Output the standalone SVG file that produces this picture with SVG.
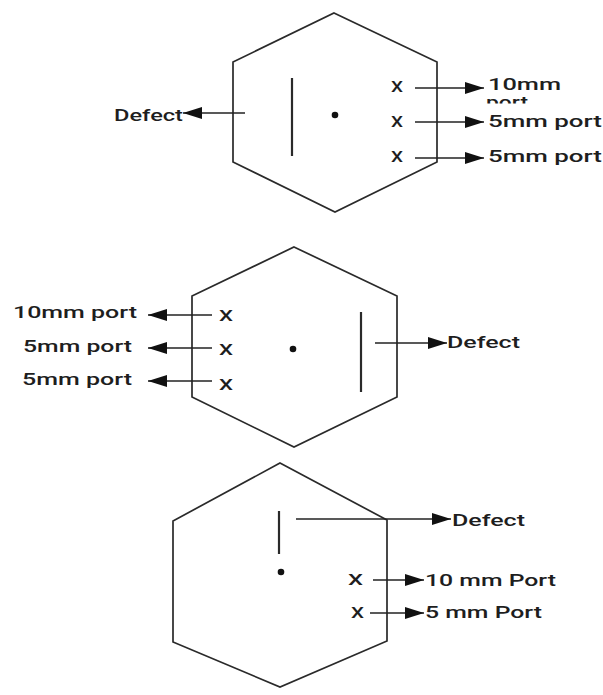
<svg xmlns="http://www.w3.org/2000/svg" width="603" height="695" viewBox="0 0 603 695">
<style>
.hex{fill:none;stroke:#2a2a2a;stroke-width:1.7;stroke-linejoin:miter}
.def{stroke:#2a2a2a;stroke-width:2.2}
.dot{fill:#111}
.con{stroke:#222;stroke-width:1.5;fill:none;marker-end:url(#ah)}
.lbl{font-family:Roboto,"Liberation Sans",Arial,sans-serif;font-size:17px;font-weight:500;fill:#1e1e1e}
.xm{font-family:Roboto,"Liberation Sans",Arial,sans-serif;font-size:14px;font-weight:500;fill:#1e1e1e}
</style>
<defs>
<marker id="ah" markerUnits="userSpaceOnUse" markerWidth="19" markerHeight="12" viewBox="0 0 19 12" refX="19" refY="6" orient="auto">
<path d="M0,0 L19,6 L0,12 z" fill="#111"/>
</marker>
<clipPath id="cp"><rect x="470" y="96" width="133" height="7.5"/></clipPath>
</defs>
<rect width="603" height="695" fill="#fff"/>

<g id="hex1">
<polygon class="hex" points="334,13 437,62 437,162 335,212 233,162 233,62"/>
<line class="def" x1="292" y1="78" x2="292" y2="156"/>
<circle class="dot" cx="335" cy="115" r="3.3"/>
<text class="xm" x="391" y="92" textLength="12" lengthAdjust="spacingAndGlyphs">X</text>
<text class="xm" x="391" y="127" textLength="12" lengthAdjust="spacingAndGlyphs">X</text>
<text class="xm" x="391" y="162" textLength="12" lengthAdjust="spacingAndGlyphs">X</text>
</g>
<g id="labels1">
<text class="lbl" x="114" y="121" textLength="69" lengthAdjust="spacingAndGlyphs">Defect</text>
<text class="lbl" x="488" y="90" textLength="73" lengthAdjust="spacingAndGlyphs">10mm</text>
<text class="lbl" x="486" y="108" textLength="42" lengthAdjust="spacingAndGlyphs" clip-path="url(#cp)">port</text>
<text class="lbl" x="488" y="127" textLength="114" lengthAdjust="spacingAndGlyphs">5mm port</text>
<text class="lbl" x="488" y="162" textLength="114" lengthAdjust="spacingAndGlyphs">5mm port</text>
</g>

<g id="hex2">
<polygon class="hex" points="294,247 397,296 397,397 294,447 192,397 192,296"/>
<line class="def" x1="361" y1="312" x2="361" y2="392"/>
<circle class="dot" cx="293" cy="349" r="3.3"/>
<text class="xm" x="219" y="321" textLength="14" lengthAdjust="spacingAndGlyphs">X</text>
<text class="xm" x="219" y="355" textLength="14" lengthAdjust="spacingAndGlyphs">X</text>
<text class="xm" x="219" y="390" textLength="14" lengthAdjust="spacingAndGlyphs">X</text>
</g>
<g id="labels2">
<text class="lbl" x="13" y="318" textLength="124" lengthAdjust="spacingAndGlyphs">10mm port</text>
<text class="lbl" x="23" y="352" textLength="109" lengthAdjust="spacingAndGlyphs">5mm port</text>
<text class="lbl" x="22" y="385" textLength="110" lengthAdjust="spacingAndGlyphs">5mm port</text>
<text class="lbl" x="447" y="348" textLength="73" lengthAdjust="spacingAndGlyphs">Defect</text>
</g>

<g id="hex3">
<polygon class="hex" points="280,463 387,520 387,641 280,687 173,642 173,521"/>
<line class="def" x1="279" y1="511" x2="279" y2="554"/>
<circle class="dot" cx="281" cy="572" r="3.3"/>
<text class="xm" x="348" y="585" textLength="15" lengthAdjust="spacingAndGlyphs">X</text>
<text class="xm" x="351" y="618" textLength="13" lengthAdjust="spacingAndGlyphs">X</text>
</g>
<g id="labels3">
<text class="lbl" x="452" y="526" textLength="73" lengthAdjust="spacingAndGlyphs">Defect</text>
<text class="lbl" x="425" y="586" textLength="131" lengthAdjust="spacingAndGlyphs">10 mm Port</text>
<text class="lbl" x="425" y="618" textLength="117" lengthAdjust="spacingAndGlyphs">5 mm Port</text>
</g>

<g id="connectors">
<line class="con" x1="245" y1="113" x2="183" y2="113"/>
<line class="con" x1="415" y1="88" x2="484" y2="88"/>
<line class="con" x1="415" y1="122" x2="484" y2="122"/>
<line class="con" x1="415" y1="158" x2="484" y2="158"/>
<line class="con" x1="212" y1="315" x2="148" y2="315"/>
<line class="con" x1="212" y1="348" x2="148" y2="348"/>
<line class="con" x1="212" y1="381" x2="148" y2="381"/>
<line class="con" x1="375" y1="343" x2="447" y2="343"/>
<line class="con" x1="296" y1="519" x2="451" y2="519"/>
<line class="con" x1="373" y1="580" x2="424" y2="580"/>
<line class="con" x1="370" y1="613" x2="424" y2="613"/>
</g>
</svg>
